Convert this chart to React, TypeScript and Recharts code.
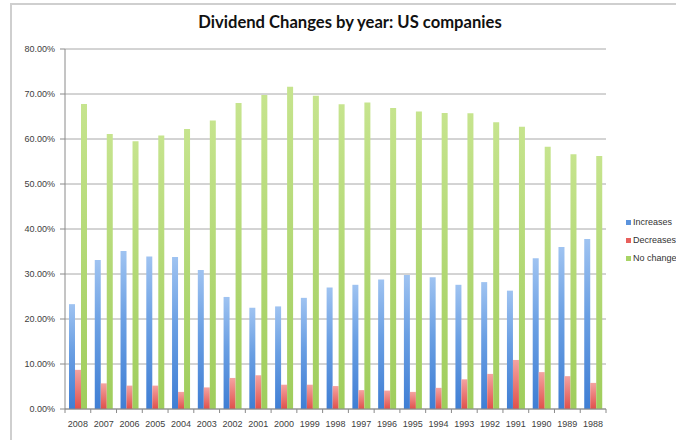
import React from 'react';
import { BarChart, Bar, XAxis, YAxis, CartesianGrid } from 'recharts';

const years = ['2008','2007','2006','2005','2004','2003','2002','2001','2000','1999','1998','1997','1996','1995','1994','1993','1992','1991','1990','1989','1988'];
const increases = [23.3,33.1,35.1,33.9,33.8,30.9,24.9,22.5,22.8,24.7,27.0,27.6,28.8,29.8,29.3,27.6,28.2,26.3,33.5,36.0,37.8];
const decreases = [8.7,5.7,5.2,5.2,3.8,4.8,6.9,7.5,5.4,5.4,5.1,4.2,4.1,3.8,4.7,6.6,7.8,10.9,8.2,7.3,5.8];
const noChange = [67.8,61.1,59.5,60.8,62.2,64.1,68.0,69.8,71.6,69.6,67.7,68.1,66.9,66.1,65.8,65.7,63.7,62.7,58.3,56.6,56.2];
const yTicks = [0,10,20,30,40,50,60,70,80];
const seriesNames = ['Increases', 'Decreases', 'No change'];
const legendColors = ['#5b93dd', '#e8605c', '#a8d466'];

const data = years.map((y, i) => ({ year: y, inc: increases[i], dec: decreases[i], nc: noChange[i] }));

const FONT = '"Liberation Sans", Arial, sans-serif';

const XTick = (props: any) => {
  const { x, y, payload, index, visibleTicksCount } = props;
  const half = payload && payload.offset ? payload.offset : 12.88;
  const top = y - 12;
  return (
    <g>
      <line x1={x - half} x2={x - half} y1={top} y2={top + 4} stroke="#8a8a8a" />
      {index === visibleTicksCount - 1 && (
        <line x1={x + half} x2={x + half} y1={top} y2={top + 4} stroke="#8a8a8a" />
      )}
      <text x={x} y={y} dy="0.71em" textAnchor="middle" fontSize={9} fill="#404040" fontFamily={FONT}>
        {payload.value}
      </text>
    </g>
  );
};

export default function App() {
  return (
    <div style={{ position: 'absolute', left: 0, top: 0, width: 676, height: 440, overflow: 'hidden', background: '#fff' }}>
      <div style={{ position: 'absolute', left: 10, top: 3, width: 720, height: 520, borderLeft: '2px solid #cfcfcf', borderTop: '2px solid #cfcfcf' }} />
      <div style={{ position: 'absolute', left: 0, width: 700, top: 12, textAlign: 'center', fontFamily: 'Lato, sans-serif', fontWeight: 700, fontSize: 16.6, color: '#111' }}>
        Dividend Changes by year: US companies
      </div>
      <div style={{ position: 'absolute', left: 0, top: 0 }}>
        <BarChart width={676} height={440} data={data} margin={{ top: 49, right: 70, left: 0, bottom: 1 }} barGap={0} barSize={6}>
          <defs>
            <linearGradient id="gBlue" x1="0" y1="0" x2="0" y2="1">
              <stop offset="0%" stopColor="#9fc3f1" />
              <stop offset="45%" stopColor="#6a9fe3" />
              <stop offset="100%" stopColor="#3f7ed4" />
            </linearGradient>
            <linearGradient id="gRed" x1="0" y1="0" x2="0" y2="1">
              <stop offset="0%" stopColor="#f4a3a1" />
              <stop offset="100%" stopColor="#e0504b" />
            </linearGradient>
            <linearGradient id="gGreen" x1="0" y1="0" x2="0" y2="1">
              <stop offset="0%" stopColor="#c6e48e" />
              <stop offset="100%" stopColor="#9fcd5c" />
            </linearGradient>
          </defs>
          <CartesianGrid vertical={false} stroke="#a8a8a8" />
          <XAxis dataKey="year" height={30} interval={0} tickSize={4} tickMargin={8} tickLine={false} axisLine={{ stroke: '#8a8a8a' }} tick={<XTick />} />
          <YAxis width={65} domain={[0, 80]} ticks={yTicks} tickSize={5} tickMargin={5} interval={0}
            tickFormatter={(v: number) => v.toFixed(2) + '%'}
            tick={{ fontSize: 9, fill: '#404040', fontFamily: FONT }}
            tickLine={{ stroke: '#8a8a8a' }} axisLine={{ stroke: '#8a8a8a' }} />
          <Bar dataKey="inc" name={seriesNames[0]} fill="url(#gBlue)" isAnimationActive={false} />
          <Bar dataKey="dec" name={seriesNames[1]} fill="url(#gRed)" isAnimationActive={false} />
          <Bar dataKey="nc" name={seriesNames[2]} fill="url(#gGreen)" isAnimationActive={false} />
        </BarChart>
      </div>
      <div style={{ position: 'absolute', left: 626, top: 213, fontFamily: FONT, fontSize: 9, color: '#333' }}>
        {seriesNames.map((n, i) => (
          <div key={n} style={{ display: 'flex', alignItems: 'center', height: 18, whiteSpace: 'nowrap' }}>
            <span style={{ display: 'inline-block', width: 5, height: 5, background: legendColors[i], marginRight: 2 }} />
            <span>{n}</span>
          </div>
        ))}
      </div>
    </div>
  );
}
